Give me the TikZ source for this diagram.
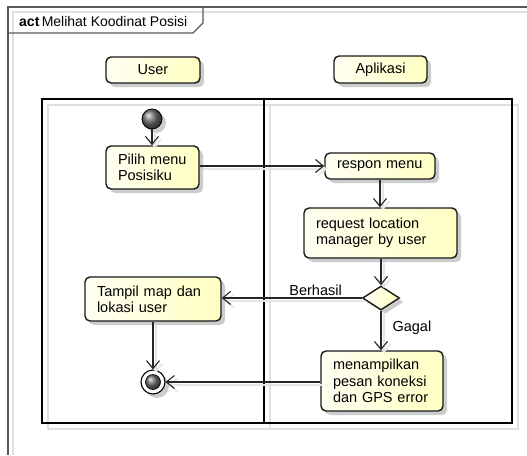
\documentclass[tikz,border=0pt]{standalone}
\usepackage{fontspec}
\setmainfont{Liberation Sans}
\usetikzlibrary{shapes.geometric,arrows.meta,shadows}
\tikzset{
  fnt/.style={font=\fontsize{14.5}{16.3}\selectfont},
  box/.style={draw=black!90, line width=1.4pt, rounded corners=5pt,
    left color=yellow!5, right color=yellow!24,
    drop shadow={shadow xshift=4pt, shadow yshift=-4pt, opacity=0.2, fill=black},
    fnt, inner sep=0pt},
  actbox/.style={box, align=left, inner xsep=12pt},
  conn/.style={draw=black!85, line width=1.1pt, -{Straight Barb[length=8pt,width=13pt]},
    preaction={draw=black!10, line width=1.6pt, transform canvas={shift={(3,3)}}}},
  shadowline/.style={draw=black!12, line width=1.5pt},
  framec/.style={draw=black!65, line width=1.5pt},
  lbl/.style={fnt, inner sep=0pt}
}
\begin{document}
\begin{tikzpicture}[x=1pt,y=-1pt]
\useasboundingbox (0,0) rectangle (527,455);
% outer frame
\draw[shadowline] (13,455) -- (13,12) -- (527,12);
\draw[framec] (527,7) -- (8,7) -- (8,455);
\draw[framec, line width=1.1pt] (8,33) -- (193,33) -- (203,23) -- (203,7);
\node[anchor=base west, inner sep=0pt, font=\fontsize{14}{16}\selectfont] (title) at (19,27) {\textbf{act}\,Melihat Koodinat Posisi};
% swimlanes
\draw[shadowline] (48,105) rectangle (518,429);
\draw[shadowline] (270,105) -- (270,429);
\draw[black, line width=1.1pt] (42,99) rectangle (512,423);
\draw[black, line width=2.2pt] (264,99) -- (264,423);
% lane headers
\node[box, minimum width=94pt, minimum height=26pt] (huser) at (153,70) {User};
\node[box, minimum width=93pt, minimum height=27pt] (happ) at (380.5,69.5) {Aplikasi};
% nodes
\node[circle, minimum size=20pt, inner sep=0pt, draw=black, line width=0.8pt, ball color=black!55,
  drop shadow={shadow xshift=4pt, shadow yshift=-4pt, opacity=0.2, fill=black}] (st) at (152,119) {};
\node[actbox, text width=69pt, minimum height=43pt] (pilih) at (152.5,167.5) {Pilih menu\\Posisiku};
\node[actbox, text width=86pt, minimum height=26pt] (respon) at (380,166) {respon menu};
\node[actbox, text width=129pt, minimum height=50pt] (req) at (380.5,233) {request location\\manager by user};
\node[diamond, draw=black!90, line width=1.4pt, inner sep=0pt, minimum width=37pt, minimum height=24pt,
  left color=yellow!5, right color=yellow!24,
  drop shadow={shadow xshift=4pt, shadow yshift=-4pt, opacity=0.2, fill=black}] (dia) at (381,298) {};
\node[actbox, text width=112pt, minimum height=44pt] (tampil) at (153,299) {Tampil map dan\\lokasi user};
\node[actbox, text width=98pt, minimum height=60pt] (msg) at (382,381) {menampilkan\\pesan koneksi\\dan GPS error};
\node[circle, minimum size=24pt, inner sep=0pt, draw=black, line width=1.1pt, fill=white,
  drop shadow={shadow xshift=4pt, shadow yshift=-4pt, opacity=0.2, fill=black}] (fin) at (153,382) {};
\shade[ball color=black!55, draw=black, line width=0.6pt] (fin.center) circle (7.5);
% connectors
\draw[conn] (st.south) -- (st.south |- pilih.north);
\draw[conn] (pilih.east |- respon.west) -- (respon.west);
\draw[conn] (respon.south) -- (respon.south |- req.north);
\draw[conn] (req.south -| dia.north) -- (dia.north);
\draw[conn] (dia.west) -- (dia.west -| tampil.east)
  node[lbl, pos=0.33, anchor=base, yshift=3pt] (lb) {Berhasil};
\draw[conn] (dia.south) -- (dia.south |- msg.north)
  node[lbl, pos=0.5, anchor=base west, xshift=11pt, yshift=-1.2pt] (lg) {Gagal};
\draw[conn] (tampil.south -| fin.north) -- (fin.north);
\draw[conn] (msg.west |- fin.east) -- (fin.east);
\end{tikzpicture}
\end{document}
